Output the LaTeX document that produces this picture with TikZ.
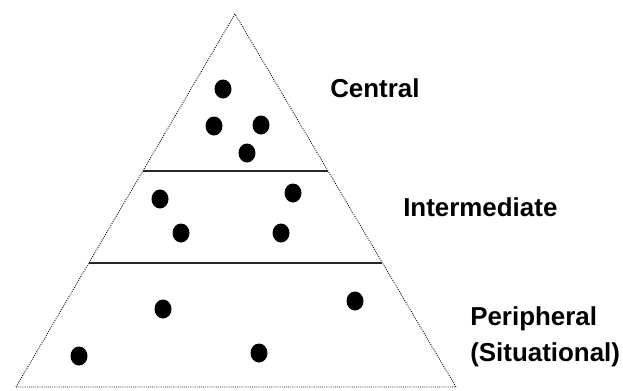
\documentclass[tikz,border=0pt]{standalone}
\usepackage{fontspec}
\setmainfont{Liberation Sans}
\begin{document}
\begin{tikzpicture}[x=.04cm,y=-.04cm,line width=.6pt,font=\fontsize{29.5}{34}\selectfont\bfseries]
  \useasboundingbox (0,0) rectangle (623,390);
  \coordinate (top) at (235,14);
  \coordinate (bl) at (16,387);
  \coordinate (br) at (456,387);
  \draw[line width=.035cm,dash pattern=on .035cm off .05cm] (bl)--(top)--(br)--cycle;
  \coordinate (al) at (143,171);
  \coordinate (ar) at (328,171);
  \coordinate (bl2) at (89,263);
  \coordinate (br2) at (382,263);
  \draw[line width=.08cm,black!85] (al)--(ar);
  \draw[line width=.08cm,black!85] (bl2)--(br2);
  \fill (223,89) ellipse (8.5 and 9.5);
  \fill (214,126) ellipse (8.5 and 9.5);
  \fill (261,125) ellipse (8.5 and 9.5);
  \fill (247,153) ellipse (8.5 and 9.5);
  \fill (160,199) ellipse (8.5 and 9.5);
  \fill (293,193) ellipse (8.5 and 9.5);
  \fill (181,233) ellipse (8.5 and 9.5);
  \fill (281,233) ellipse (8.5 and 9.5);
  \fill (163,309) ellipse (8.5 and 9.5);
  \fill (355,301) ellipse (8.5 and 9.5);
  \fill (79,356) ellipse (8.5 and 9.5);
  \fill (259,353) ellipse (8.5 and 9.5);
  \node[anchor=base west,inner sep=0pt] (central) at (330,97) {Central};
  \node[anchor=base west,inner sep=0pt] (inter) at (403,216) {Intermediate};
  \node[anchor=base west,inner sep=0pt] (periph) at (470,325) {Peripheral};
  \node[anchor=base west,inner sep=0pt] (situ) at (470,361) {(Situational)};
\end{tikzpicture}
\end{document}
